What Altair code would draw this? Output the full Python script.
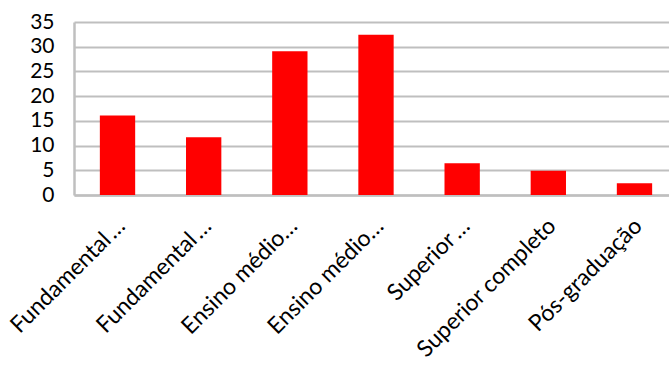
import altair as alt
import pandas as pd

categories = ["Fundamental incompleto", "Fundamental completo", "Ensino médio incompleto",
              "Ensino médio completo", "Superior incompleto", "Superior completo", "Pós-graduação"]
tick_labels = ["Fundamental\u2009…", "Fundamental\u2009…", "Ensino médio…", "Ensino médio…",
               "Superior\u2009…", "Superior completo", "Pós-graduação"]
values = [16.1, 11.7, 29.1, 32.4, 6.4, 4.9, 2.4]

df = pd.DataFrame({"cat": categories, "val": values})
mapping = "{" + ",".join(f"'{c}':'{t}'" for c, t in zip(categories, tick_labels)) + "}"

FONT = "Lato"
chart = alt.Chart(df).mark_bar(color="#ff0000").encode(
    x=alt.X("cat:N", sort=categories, title=None,
            scale=alt.Scale(range=[0, 604], paddingInner=0.59, paddingOuter=0.3),
            axis=alt.Axis(labelAngle=-45, labelAlign="right", labelBaseline="middle",
                          labelPadding=27, labelOffset=4, ticks=False, labelFont=FONT,
                          labelFontSize=23, labelColor="#000000",
                          labelExpr=f"{mapping}[datum.value]",
                          domainColor="#bfbfbf", domainWidth=2.5, labelLimit=400)),
    y=alt.Y("val:Q", title=None,
            scale=alt.Scale(domain=[0, 35]),
            axis=alt.Axis(values=[0, 5, 10, 15, 20, 25, 30, 35], ticks=False,
                          labelFont=FONT, labelFontSize=21, labelColor="#000000",
                          labelPadding=20, gridColor="#bfbfbf", gridWidth=2,
                          domainColor="#bfbfbf", domainWidth=2.5)),
).properties(
    width=595, height=173,
    autosize=alt.AutoSizeParams(type="none"),
    padding={"left": 74, "top": 22, "right": 0, "bottom": 177},
).configure_view(stroke=None)

chart.save("out.html", embed_options={"renderer": "svg", "actions": False})
